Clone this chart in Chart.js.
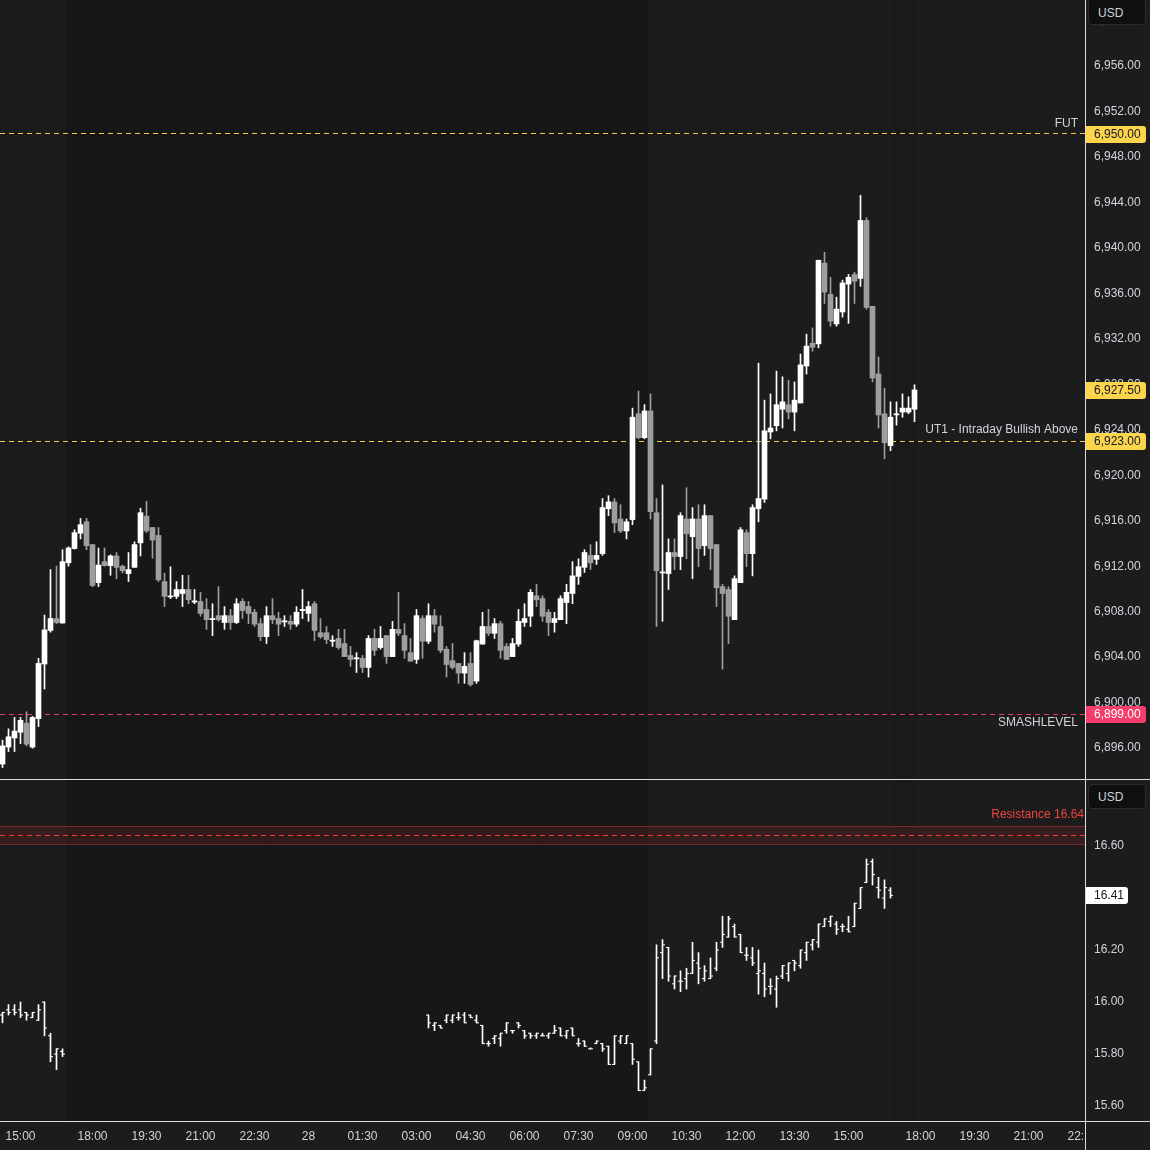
<!DOCTYPE html>
<html>
<head>
<meta charset="utf-8">
<title>ES 10m / VIX</title>
<script src="https://cdn.jsdelivr.net/npm/chart.js@4.4.1/dist/chart.umd.min.js"></script>
<style>
  html, body { margin: 0; padding: 0; background: #1c1c1c; }
  #wrap { position: relative; width: 1150px; height: 1150px; overflow: hidden; }
  canvas { position: absolute; left: 0; }
  #priceChart { top: 0; }
  #vixChart { top: 780px; }
  .sep { position: absolute; background: #dcdcdc; }
  .usd { position: absolute; left: 1088px; width: 58px; box-sizing: border-box;
         background: #0f0f0f; border: 1px solid #2c2c2c; border-radius: 4px;
         color: #d1d4dc; font: 12px 'Liberation Sans', Arial, sans-serif; padding-left: 9px; }
</style>
</head>
<body>
<div id="wrap">
  <canvas id="priceChart" width="1150" height="779"></canvas>
  <canvas id="vixChart" width="1150" height="370"></canvas>
  <div class="sep" style="left:0;top:779px;width:1150px;height:1px"></div>
  <div class="sep" style="left:0;top:1121px;width:1150px;height:1px"></div>
  <div class="sep" style="left:1085px;top:0;width:1px;height:1150px"></div>
  <div class="usd" style="top:-2px;height:27px;line-height:28px">USD</div>
  <div class="usd" style="top:784px;height:25px;line-height:24px">USD</div>
</div>
<script>
// Candles are 10 minute bars, bar 0 = 14:30 (16:00-18:00 break collapsed like the source chart)
const candleOpen = [
  6894.6, 6896.1, 6896.9, 6897.4, 6898.2, 6896.1, 6898.6, 6903.4, 6906.35, 6907.4,
  6907.0, 6912.3, 6913.55, 6914.9, 6915.9, 6913.9, 6910.55, 6912.4, 6912.05, 6912.9,
  6912.0, 6911.35, 6911.9, 6914.05, 6916.4, 6915.4, 6914.7, 6910.65, 6909.3, 6909.35,
  6909.6, 6909.95, 6908.85, 6908.9, 6908.2, 6907.3, 6907.65, 6907.05, 6907.65, 6907.05,
  6908.9, 6908.45, 6907.95, 6906.95, 6905.8, 6907.65, 6907.4, 6907.1, 6907.15, 6906.9,
  6908.1, 6907.85, 6908.7, 6906.15, 6906.15, 6905.4, 6905.65, 6905.2, 6904.15, 6903.85,
  6903.9, 6903.1, 6905.65, 6904.85, 6905.9, 6904.05, 6906.45, 6905.9, 6904.4, 6903.8,
  6907.4, 6905.4, 6907.65, 6906.7, 6904.7, 6903.7, 6903.45, 6902.6, 6903.45, 6901.9,
  6905.15, 6906.7, 6906.1, 6906.95, 6904.95, 6904.05, 6905.15, 6907.05, 6907.6, 6909.4,
  6909.15, 6907.95, 6907.05, 6907.3, 6908.8, 6909.6, 6911.1, 6911.9, 6912.95, 6912.6,
  6913.1, 6917.05, 6917.65, 6916.15, 6915.1, 6916.1, 6925.4, 6923.3, 6925.65, 6916.7,
  6911.4, 6911.35, 6913.2, 6912.85, 6916.15, 6914.6, 6916.15, 6913.8, 6916.45, 6913.9,
  6910.2, 6909.95, 6907.3, 6910.55, 6914.95, 6913.1, 6917.05, 6917.9, 6923.8, 6924.35,
  6925.8, 6926.2, 6925.55, 6926.35, 6929.6, 6931.6, 6931.55, 6938.65, 6935.9, 6933.3,
  6934.35, 6936.8, 6937.65, 6937.3, 6942.4, 6934.85, 6928.9, 6925.4, 6922.6, 6925.3,
  6925.55, 6925.55, 6925.8
];
const candleHigh = [
  6896.7, 6897.7, 6898.7, 6898.7, 6899.2, 6898.8, 6903.9, 6907.7, 6911.7, 6912.0,
  6913.45, 6913.7, 6915.2, 6916.2, 6916.2, 6913.9, 6913.6, 6913.6, 6913.0, 6913.2,
  6912.1, 6913.2, 6914.15, 6917.1, 6917.7, 6915.4, 6915.4, 6911.4, 6911.95, 6910.65,
  6911.2, 6911.2, 6909.95, 6909.7, 6909.15, 6908.7, 6910.2, 6908.45, 6908.2, 6909.15,
  6909.15, 6908.9, 6908.2, 6907.4, 6908.45, 6909.15, 6907.95, 6907.65, 6907.65, 6908.45,
  6909.95, 6908.9, 6908.9, 6907.4, 6906.7, 6905.9, 6906.45, 6906.45, 6904.95, 6904.4,
  6904.15, 6905.9, 6906.45, 6906.7, 6905.9, 6907.15, 6909.7, 6906.95, 6905.65, 6908.2,
  6907.65, 6908.7, 6908.2, 6907.65, 6904.95, 6905.2, 6903.45, 6904.4, 6904.4, 6905.5,
  6907.95, 6908.2, 6907.4, 6907.15, 6905.2, 6905.65, 6908.2, 6908.7, 6909.95, 6910.4,
  6909.4, 6908.2, 6907.95, 6909.4, 6910.4, 6912.4, 6912.65, 6913.45, 6913.9, 6914.15,
  6917.95, 6918.2, 6917.95, 6917.4, 6916.15, 6925.9, 6927.4, 6926.2, 6927.15, 6917.95,
  6919.15, 6914.4, 6914.4, 6916.7, 6918.9, 6917.15, 6917.4, 6917.4, 6916.45, 6913.9,
  6910.4, 6910.2, 6911.15, 6915.4, 6915.2, 6917.4, 6929.85, 6926.6, 6927.15, 6929.15,
  6928.65, 6928.35, 6928.2, 6930.65, 6932.4, 6932.95, 6938.9, 6939.6, 6937.4, 6935.65,
  6937.15, 6937.65, 6937.85, 6944.6, 6942.65, 6934.85, 6930.4, 6927.65, 6926.45, 6926.45,
  6927.15, 6926.9, 6927.95
];
const candleLow = [
  6894.3, 6895.7, 6895.7, 6896.4, 6896.2, 6896.0, 6897.9, 6901.2, 6906.2, 6906.95,
  6907.0, 6912.0, 6913.5, 6914.4, 6913.45, 6910.2, 6910.2, 6912.0, 6911.2, 6910.9,
  6911.4, 6910.65, 6911.9, 6912.9, 6914.95, 6912.7, 6910.65, 6908.45, 6909.15, 6909.15,
  6908.45, 6908.7, 6908.7, 6907.6, 6906.45, 6905.9, 6907.15, 6906.45, 6906.45, 6906.95,
  6907.4, 6906.95, 6906.7, 6905.45, 6905.2, 6906.95, 6905.9, 6906.7, 6906.45, 6906.7,
  6907.4, 6907.15, 6905.45, 6905.65, 6905.2, 6904.95, 6904.7, 6904.05, 6903.2, 6902.65,
  6902.65, 6902.25, 6904.15, 6904.7, 6903.45, 6904.05, 6905.9, 6903.9, 6903.65, 6903.45,
  6903.9, 6905.2, 6906.2, 6904.4, 6902.25, 6902.95, 6901.7, 6901.7, 6901.45, 6901.7,
  6905.15, 6905.9, 6905.65, 6903.9, 6903.8, 6904.05, 6904.95, 6906.7, 6906.7, 6908.45,
  6907.15, 6905.9, 6906.2, 6907.3, 6906.95, 6908.7, 6910.4, 6911.45, 6911.7, 6912.15,
  6912.95, 6916.45, 6914.95, 6914.95, 6914.4, 6915.65, 6923.2, 6923.2, 6916.15, 6906.7,
  6907.15, 6909.95, 6911.7, 6911.7, 6912.65, 6910.9, 6911.95, 6912.95, 6911.7, 6908.45,
  6902.95, 6905.2, 6907.3, 6910.55, 6911.95, 6911.15, 6915.9, 6917.6, 6923.2, 6923.9,
  6924.15, 6924.95, 6923.9, 6926.35, 6928.9, 6930.9, 6931.2, 6935.1, 6933.1, 6933.1,
  6933.9, 6933.35, 6935.1, 6936.6, 6934.6, 6928.2, 6924.15, 6921.45, 6922.15, 6924.4,
  6925.1, 6925.4, 6924.7
];
const candleClose = [
  6896.2, 6897.0, 6897.5, 6898.45, 6896.35, 6898.7, 6903.45, 6906.4, 6907.4, 6907.05,
  6912.4, 6913.6, 6914.95, 6915.65, 6913.8, 6910.3, 6912.1, 6912.05, 6912.9, 6911.9,
  6911.6, 6911.7, 6913.9, 6916.7, 6915.1, 6914.3, 6910.8, 6909.35, 6909.35, 6909.95,
  6909.95, 6909.05, 6908.95, 6907.85, 6907.3, 6907.4, 6907.3, 6907.65, 6907.05, 6908.7,
  6908.1, 6907.85, 6906.9, 6905.8, 6907.65, 6907.3, 6906.9, 6907.2, 6906.9, 6907.95,
  6908.2, 6908.45, 6906.35, 6905.8, 6905.55, 6905.5, 6904.85, 6904.05, 6903.8, 6903.95,
  6903.1, 6905.65, 6904.6, 6905.65, 6904.05, 6906.45, 6906.1, 6904.6, 6903.65, 6907.65,
  6905.4, 6907.65, 6906.9, 6904.6, 6903.35, 6903.1, 6902.6, 6903.2, 6901.6, 6905.45,
  6906.7, 6906.1, 6906.95, 6904.6, 6903.8, 6905.2, 6907.15, 6907.4, 6909.7, 6909.05,
  6907.6, 6907.05, 6907.4, 6909.15, 6909.7, 6911.15, 6911.95, 6913.2, 6912.3, 6912.95,
  6917.15, 6917.65, 6915.8, 6915.1, 6915.9, 6925.1, 6923.3, 6925.65, 6916.8, 6911.6,
  6911.5, 6913.2, 6912.85, 6916.45, 6914.85, 6916.15, 6913.55, 6916.45, 6913.55, 6910.1,
  6909.6, 6907.6, 6910.9, 6915.2, 6913.1, 6917.15, 6917.95, 6923.9, 6924.15, 6926.2,
  6926.45, 6925.55, 6926.6, 6929.7, 6931.35, 6931.25, 6938.9, 6936.1, 6933.55, 6934.6,
  6936.9, 6937.4, 6937.05, 6942.4, 6934.75, 6928.55, 6925.3, 6922.85, 6925.1, 6925.4,
  6925.9, 6925.9, 6927.5
];

// VIX bars only exist in two stretches: bars 0-10 and 71-148
const vixBars = [];
for (let i = 0; i <= 10; i++) vixBars.push(i);
for (let i = 71; i <= 148; i++) vixBars.push(i);

const vixOpen = [
  15.95, 15.97, 15.97, 15.97, 15.96, 15.94, 15.93, 16.00, 15.87, 15.80, 15.81,
  15.95, 15.91, 15.91, 15.93, 15.93, 15.94, 15.95, 15.95, 15.93, 15.91,
  15.84, 15.86, 15.86, 15.89, 15.89, 15.92, 15.89, 15.88, 15.87, 15.87,
  15.87, 15.88, 15.90, 15.87, 15.90, 15.84, 15.85, 15.82, 15.84, 15.84,
  15.83, 15.76, 15.85, 15.84, 15.84, 15.77, 15.66, 15.72, 15.85, 16.19,
  16.21, 16.07, 16.08, 16.09, 16.11, 16.15, 16.09, 16.09, 16.13, 16.23,
  16.25, 16.29, 16.26, 16.18, 16.17, 16.11, 16.11, 16.06, 16.05, 16.10,
  16.11, 16.16, 16.14, 16.19, 16.22, 16.23, 16.29, 16.31, 16.30, 16.29,
  16.28, 16.29, 16.36, 16.46, 16.54, 16.44, 16.40, 16.43
];
const vixHigh = [
  15.96, 15.99, 15.99, 16.00, 15.96, 15.96, 15.99, 16.00, 15.88, 15.82, 15.82,
  15.95, 15.92, 15.91, 15.95, 15.95, 15.96, 15.96, 15.95, 15.95, 15.91,
  15.85, 15.87, 15.88, 15.92, 15.89, 15.92, 15.89, 15.88, 15.88, 15.88,
  15.88, 15.91, 15.90, 15.89, 15.90, 15.86, 15.85, 15.82, 15.85, 15.84,
  15.83, 15.87, 15.87, 15.87, 15.84, 15.77, 15.70, 15.82, 16.22, 16.24,
  16.21, 16.10, 16.12, 16.13, 16.23, 16.19, 16.14, 16.17, 16.23, 16.33,
  16.33, 16.30, 16.26, 16.21, 16.21, 16.20, 16.15, 16.09, 16.10, 16.14,
  16.15, 16.16, 16.20, 16.23, 16.24, 16.30, 16.32, 16.33, 16.31, 16.30,
  16.33, 16.38, 16.44, 16.55, 16.55, 16.48, 16.47, 16.44
];
const vixLow = [
  15.92, 15.95, 15.95, 15.94, 15.93, 15.94, 15.93, 15.87, 15.77, 15.74, 15.79,
  15.90, 15.89, 15.90, 15.92, 15.92, 15.93, 15.92, 15.94, 15.92, 15.84,
  15.83, 15.84, 15.83, 15.88, 15.88, 15.90, 15.86, 15.86, 15.86, 15.87,
  15.86, 15.88, 15.87, 15.86, 15.87, 15.83, 15.83, 15.82, 15.84, 15.81,
  15.76, 15.76, 15.84, 15.84, 15.76, 15.66, 15.66, 15.72, 15.84, 16.09,
  16.08, 16.05, 16.04, 16.05, 16.11, 16.07, 16.08, 16.09, 16.12, 16.21,
  16.25, 16.25, 16.19, 16.16, 16.14, 16.03, 16.02, 16.03, 15.98, 16.09,
  16.08, 16.12, 16.13, 16.16, 16.20, 16.21, 16.29, 16.29, 16.26, 16.27,
  16.27, 16.29, 16.36, 16.46, 16.45, 16.40, 16.36, 16.40
];
const vixClose = [
  15.96, 15.96, 15.96, 15.95, 15.95, 15.96, 15.97, 15.90, 15.79, 15.82, 15.80,
  15.92, 15.92, 15.90, 15.95, 15.95, 15.94, 15.92, 15.94, 15.92, 15.84,
  15.84, 15.87, 15.88, 15.92, 15.89, 15.91, 15.87, 15.87, 15.88, 15.87,
  15.88, 15.89, 15.87, 15.89, 15.87, 15.84, 15.83, 15.82, 15.85, 15.82,
  15.76, 15.87, 15.87, 15.87, 15.78, 15.66, 15.67, 15.82, 16.17, 16.22,
  16.10, 16.10, 16.08, 16.11, 16.16, 16.13, 16.12, 16.10, 16.20, 16.26,
  16.32, 16.25, 16.19, 16.18, 16.15, 16.12, 16.05, 16.06, 16.09, 16.14,
  16.15, 16.15, 16.20, 16.23, 16.24, 16.30, 16.32, 16.33, 16.28, 16.29,
  16.27, 16.38, 16.44, 16.53, 16.49, 16.43, 16.44, 16.41
];

// horizontal levels drawn on the price pane
const levelNames = ['FUT', 'UT1 - Intraday Bullish Above', 'SMASHLEVEL'];
const levelPrices = [6950, 6923, 6899];
const resistanceLevel = 16.64;
const resistanceZone = [16.608, 16.676];

// time axis
const timeTickBars = [3, 15, 24, 33, 42, 51, 60, 69, 78, 87, 96, 105, 114, 123, 132, 141, 153, 162, 171, 180];
const timeTickLabels = ['15:00', '18:00', '19:30', '21:00', '22:30', '28', '01:30', '03:00', '04:30', '06:00',
  '07:30', '09:00', '10:30', '12:00', '13:30', '15:00', '18:00', '19:30', '21:00', '22:30'];

// session shading (bar numbers)
const overnightBand = [10.5, 107.5];
const afterCloseBand = [148.5, 152.5];

// ---- styling ----
const xMin = -0.4167, xMax = 180.4167;
const fontFamily = "'Liberation Sans', Arial, sans-serif";
const textColor = '#d1d4dc';
const upColor = '#ffffff';
const downColor = '#9e9e9e';
const levelColors = ['#f4c84a', '#f4c84a', '#e8386a'];
const tagColors = ['#fcd54c', '#fcd54c', '#f53d6b'];
const tagText = ['#131722', '#131722', '#ffffff'];
const levelTextOffset = [-10, -11, 9];

function fmtPrice(v) {
  return v.toLocaleString('en-US', { minimumFractionDigits: 2, maximumFractionDigits: 2 });
}

// no extra padding around the plot, the panes have to line up with the picture
function noPad(s) {
  s.paddingTop = 0;
  s.paddingBottom = 0;
  s.paddingLeft = 0;
  s.paddingRight = 0;
}

// little coloured label sitting on the right hand price axis
function axisTag(ctx, y, text, bg, fg, width) {
  ctx.fillStyle = bg;
  ctx.beginPath();
  ctx.roundRect(1086, Math.round(y) - 8, width, 17, [0, 3, 3, 0]);
  ctx.fill();
  ctx.fillStyle = fg;
  ctx.textAlign = 'left';
  ctx.textBaseline = 'middle';
  ctx.fillText(text, 1094, Math.round(y) + 0.5);
}

// dashed horizontal level line, snapped to a whole pixel row
function dashedLevel(chart, value, color) {
  const { ctx, chartArea, scales: { y } } = chart;
  const py = Math.floor(y.getPixelForValue(value)) + 0.5;
  ctx.save();
  ctx.strokeStyle = color;
  ctx.lineWidth = 1;
  ctx.setLineDash([5, 4]);
  ctx.beginPath();
  ctx.moveTo(chartArea.left, py);
  ctx.lineTo(chartArea.right, py);
  ctx.stroke();
  ctx.restore();
}

const sessionShade = {
  id: 'sessionShade',
  beforeDraw(chart) {
    const { ctx, chartArea, scales } = chart;
    ctx.save();
    ctx.fillStyle = '#1c1c1c';
    ctx.fillRect(0, 0, chart.width, chart.height);
    const paint = (band, color) => {
      const x0 = scales.x.getPixelForValue(band[0]);
      const x1 = scales.x.getPixelForValue(band[1]);
      ctx.fillStyle = color;
      ctx.fillRect(x0, chartArea.top, x1 - x0, chartArea.bottom - chartArea.top);
    };
    paint(overnightBand, '#171717');
    paint(afterCloseBand, '#1a1a1a');
    ctx.restore();
  }
};

const commonOptions = {
  responsive: false,
  animation: false,
  events: [],
  layout: { padding: 0, autoPadding: false },
  plugins: { legend: { display: false }, tooltip: { enabled: false } }
};

// ---------- price pane ----------
const barIdx = candleOpen.map((_, i) => i);
const candleColors = barIdx.map(i => candleClose[i] >= candleOpen[i] ? upColor : downColor);

const levelLines = {
  id: 'levelLines',
  beforeDatasetsDraw(chart) {
    levelPrices.forEach((p, j) => dashedLevel(chart, p, levelColors[j]));
  },
  afterDraw(chart) {
    const { ctx, chartArea, scales: { y } } = chart;
    ctx.save();
    ctx.font = '12px ' + fontFamily;
    levelPrices.forEach((p, j) => {
      const py = y.getPixelForValue(p);
      ctx.fillStyle = textColor;
      ctx.textAlign = 'right';
      ctx.textBaseline = 'middle';
      ctx.fillText(levelNames[j], chartArea.right - 7, py + levelTextOffset[j]);
      axisTag(ctx, py, fmtPrice(p), tagColors[j], tagText[j], 60);
    });
    const last = candleClose[candleClose.length - 1];
    axisTag(ctx, y.getPixelForValue(last), fmtPrice(last), tagColors[0], tagText[0], 60);
    ctx.restore();
  }
};

new Chart(document.getElementById('priceChart'), {
  type: 'bar',
  data: {
    datasets: [
      {
        data: barIdx.map(i => ({ x: i, y: [candleOpen[i], candleClose[i]] })),
        backgroundColor: candleColors,
        barThickness: 5,
        minBarLength: 1,
        grouped: false
      },
      {
        data: barIdx.map(i => ({ x: i, y: [candleLow[i], candleHigh[i]] })),
        backgroundColor: candleColors,
        barThickness: 1,
        minBarLength: 1,
        grouped: false
      }
    ]
  },
  options: {
    ...commonOptions,
    scales: {
      x: { type: 'linear', min: xMin, max: xMax, offset: false, display: false },
      y: {
        position: 'right',
        min: 6893.29,
        max: 6961.78,
        grid: { display: false, drawTicks: false },
        border: { display: false },
        ticks: {
          stepSize: 4,
          includeBounds: false,
          padding: 9,
          color: textColor,
          font: { family: fontFamily, size: 12 },
          callback: v => fmtPrice(v)
        },
        afterFit: s => { s.width = 65; noPad(s); }
      }
    }
  },
  plugins: [sessionShade, levelLines]
});

// ---------- VIX pane ----------
const vixExtras = {
  id: 'vixExtras',
  beforeDatasetsDraw(chart) {
    const { ctx, chartArea, scales: { y } } = chart;
    const y0 = y.getPixelForValue(resistanceZone[1]);
    const y1 = y.getPixelForValue(resistanceZone[0]);
    ctx.save();
    ctx.fillStyle = 'rgba(190, 40, 40, 0.17)';
    ctx.fillRect(chartArea.left, y0, chartArea.right - chartArea.left, y1 - y0);
    ctx.strokeStyle = 'rgba(200, 55, 55, 0.5)';
    ctx.lineWidth = 1;
    ctx.beginPath();
    ctx.moveTo(chartArea.left, Math.round(y0) + 0.5);
    ctx.lineTo(chartArea.right, Math.round(y0) + 0.5);
    ctx.moveTo(chartArea.left, Math.round(y1) + 0.5);
    ctx.lineTo(chartArea.right, Math.round(y1) + 0.5);
    ctx.stroke();
    ctx.restore();
    dashedLevel(chart, resistanceLevel, '#f23f3a');
  },
  afterDraw(chart) {
    const { ctx, chartArea, scales: { y } } = chart;
    ctx.save();
    ctx.font = '12px ' + fontFamily;
    ctx.fillStyle = '#f0443f';
    ctx.textAlign = 'right';
    ctx.textBaseline = 'middle';
    ctx.fillText('Resistance ' + resistanceLevel.toFixed(2), chartArea.right - 1, y.getPixelForValue(resistanceLevel) - 21);
    // hide the part of the last time label that runs under the price axis
    ctx.fillStyle = '#1c1c1c';
    ctx.fillRect(chartArea.right + 1, chartArea.bottom + 1, chart.width - chartArea.right, 40);
    const last = vixClose[vixClose.length - 1];
    axisTag(ctx, y.getPixelForValue(last), last.toFixed(2), '#ffffff', '#131722', 42);
    ctx.restore();
  }
};

new Chart(document.getElementById('vixChart'), {
  type: 'bar',
  data: {
    datasets: [
      {
        data: vixBars.map((b, i) => ({ x: b, y: [vixLow[i], vixHigh[i]] })),
        backgroundColor: '#ffffff',
        barThickness: 1,
        minBarLength: 1,
        grouped: false
      },
      {
        type: 'scatter',
        data: vixBars.map((b, i) => ({ x: b - 1 / 6, y: vixOpen[i] })),
        pointStyle: 'line',
        pointRadius: 1.5,
        pointBorderWidth: 1,
        pointBorderColor: '#ffffff',
        pointBackgroundColor: '#ffffff'
      },
      {
        type: 'scatter',
        data: vixBars.map((b, i) => ({ x: b + 1 / 6, y: vixClose[i] })),
        pointStyle: 'line',
        pointRadius: 1.5,
        pointBorderWidth: 1,
        pointBorderColor: '#ffffff',
        pointBackgroundColor: '#ffffff'
      }
    ]
  },
  options: {
    ...commonOptions,
    scales: {
      x: {
        type: 'linear',
        min: xMin,
        max: xMax,
        offset: false,
        grid: { display: false, drawTicks: false },
        border: { display: false },
        afterBuildTicks: s => { s.ticks = timeTickBars.map(v => ({ value: v })); },
        ticks: {
          autoSkip: false,
          maxRotation: 0,
          padding: 8,
          color: textColor,
          font: { family: fontFamily, size: 12 },
          callback: (v, i) => timeTickLabels[i]
        },
        afterFit: s => { s.height = 29; noPad(s); }
      },
      y: {
        position: 'right',
        min: 15.5424,
        max: 16.854,
        grid: { display: false, drawTicks: false },
        border: { display: false },
        ticks: {
          stepSize: 0.2,
          includeBounds: false,
          padding: 9,
          color: textColor,
          font: { family: fontFamily, size: 12 },
          callback: v => v.toFixed(2)
        },
        afterFit: s => { s.width = 65; noPad(s); }
      }
    }
  },
  plugins: [sessionShade, vixExtras]
});
</script>
</body>
</html>
